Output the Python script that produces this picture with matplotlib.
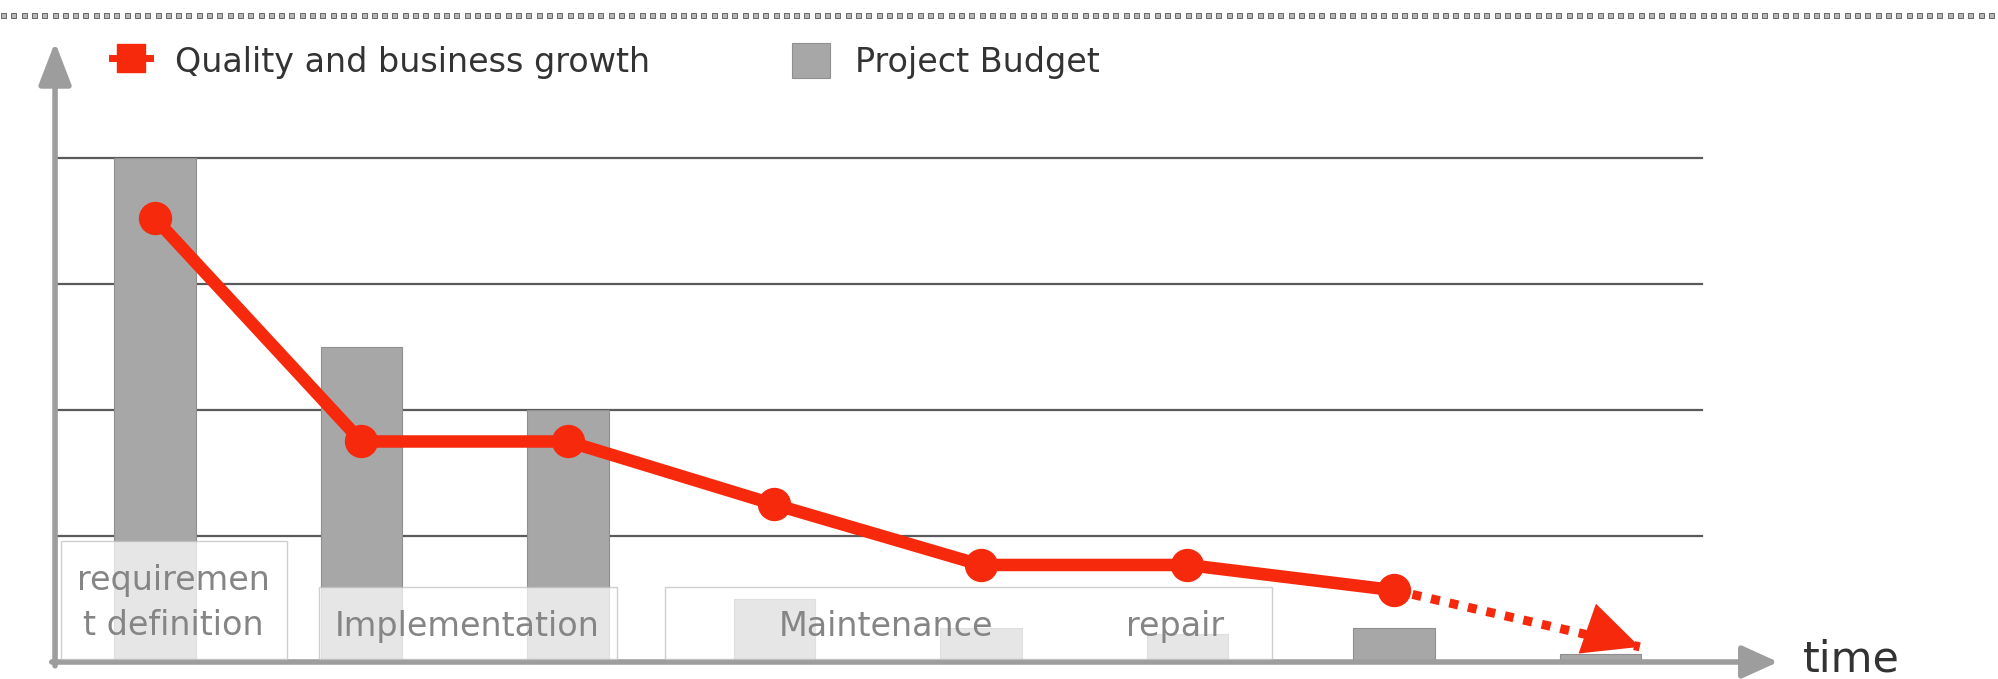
import numpy as np
import matplotlib
matplotlib.use('Agg')
import matplotlib.pyplot as plt
from matplotlib.patches import Rectangle, Patch
from matplotlib.lines import Line2D

# ── Данные ───────────────────────────────────────────────────────
budget = [4.0, 2.5, 2.0, 0.5, 0.27, 0.22, 0.27, 0.06]        # Project Budget (bars)
quality = [3.52, 1.75, 1.75, 1.25, 0.77, 0.77, 0.57]         # Quality and business growth
forecast_x = [6, 7.19]                                        # dotted tail of the red line
forecast_y = [0.57, 0.12]

phase_labels = ["requiremen\nt definition", "Implementation", "Maintenance", "repair"]
phase_label_x = [0.09, 1.51, 3.54, 4.94]
phase_label_y = [0.47, 0.28, 0.28, 0.28]
phase_boxes = [(-0.455, 0.639, 0.96), (0.792, 2.237, 0.595), (2.47, 5.409, 0.595)]

grid_levels = [1, 2, 3, 4]

RED = '#f7290c'
BAR = '#a7a7a7'
AXIS = '#9d9d9d'

fig = plt.figure(figsize=(19.98, 6.79), dpi=100, facecolor='white')
ax = fig.add_axes([0, 0, 1, 1])
ax.set_xlim(-0.7506, 8.925)
ax.set_ylim(-0.135, 5.254)
ax.set_axis_off()

# пунктир по верхнему краю
xs = np.arange(3, 1998, 10.3) / 1998
ax.plot(xs, np.full_like(xs, 0.978), ls='none', marker='s', ms=3.6,
        mfc='#b8b8b8', mec='#666666', mew=0.7, transform=ax.transAxes)

# горизонтальные линии сетки
for g in grid_levels:
    ax.plot([-0.484, 7.49], [g, g], color='#5a5a5a', lw=1.6, zorder=1)

# столбцы бюджета
x = np.arange(len(budget))
ax.bar(x, budget, width=0.395, color=BAR, edgecolor='#8f8f8f', linewidth=0.8, zorder=2)

# оси со стрелками
ax.annotate('', xy=(-0.484, 4.92), xytext=(-0.484, -0.03),
            arrowprops=dict(arrowstyle='-|>,head_length=1.3,head_width=0.5',
                            color=AXIS, lw=4, shrinkA=0, shrinkB=0,
                            mutation_scale=20), zorder=3)
ax.annotate('', xy=(7.86, 0.0), xytext=(-0.5, 0.0),
            arrowprops=dict(arrowstyle='-|>,head_length=1.1,head_width=0.5',
                            color=AXIS, lw=4, shrinkA=0, shrinkB=0,
                            mutation_scale=20), zorder=3)
ax.text(7.98, 0.02, 'time', fontsize=31, color='#333333', ha='left', va='center')

# полупрозрачные подписи фаз поверх столбцов
for x0, x1, top in phase_boxes:
    ax.add_patch(Rectangle((x0, 0.02), x1 - x0, top - 0.02, facecolor='white',
                           alpha=0.72, edgecolor='#bdbdbd', lw=1.0, zorder=4))
for lbl, lx, ly in zip(phase_labels, phase_label_x, phase_label_y):
    ax.text(lx, ly, lbl, fontsize=24, color='#858585', ha='center', va='center',
            linespacing=1.45, zorder=5)

# линия качества
ax.plot(forecast_x, forecast_y, color=RED, lw=6.5, ls=(0, (1, 1.1)),
        dash_capstyle='butt', zorder=6)
ax.annotate('', xy=(forecast_x[1], forecast_y[1]),
            xytext=(forecast_x[1] - 0.14, forecast_y[1] + 0.08),
            arrowprops=dict(arrowstyle='-|>,head_length=2.0,head_width=0.95',
                            color=RED, lw=0, shrinkA=0, shrinkB=0,
                            mutation_scale=20), zorder=7)
ax.plot(np.arange(len(quality)), quality, color=RED, lw=9, marker='o', ms=23,
        solid_capstyle='round', zorder=8)

# легенда
handles = [
    Line2D([0], [0], color=RED, lw=5, marker='s', ms=20, mec=RED),
    Patch(facecolor=BAR, edgecolor='#8f8f8f', linewidth=0.8),
]
ax.legend(handles, ['Quality and business growth', 'Project Budget'],
          loc='upper left', bbox_to_anchor=(0.056, 0.936), bbox_transform=fig.transFigure,
          ncol=2, frameon=False, fontsize=24, handlelength=1.15, handleheight=1.2,
          handletextpad=0.75, columnspacing=4.25, borderpad=0, borderaxespad=0,
          labelcolor='#333333')

fig.savefig('out.png', dpi=100, facecolor='white')
